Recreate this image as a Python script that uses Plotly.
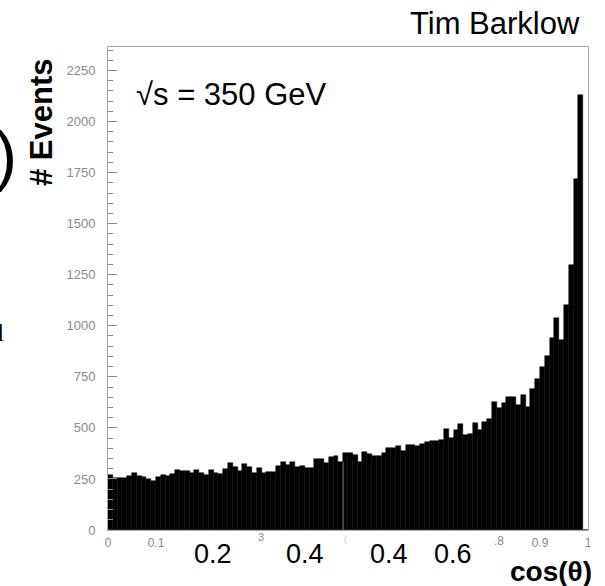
import plotly.graph_objects as go

# ---- data -------------------------------------------------------------
bin_width = 0.01
bin_starts = [round(i * bin_width, 2) for i in range(100)]
counts = [
    270, 257, 256, 254, 262, 281, 266, 259, 249, 242,
    259, 268, 262, 272, 296, 290, 290, 281, 296, 280,
    270, 292, 277, 274, 300, 327, 310, 290, 322, 310,
    281, 302, 281, 286, 286, 313, 332, 318, 332, 307,
    315, 304, 302, 346, 346, 327, 356, 362, 335, 376,
    376, 367, 335, 384, 373, 360, 362, 379, 400, 400,
    412, 388, 416, 416, 412, 421, 432, 434, 436, 440,
    493, 449, 490, 519, 465, 468, 526, 490, 531, 542,
    629, 596, 620, 650, 650, 610, 660, 600, 690, 740,
    800, 850, 940, 1040, 930, 1100, 1300, 1720, 2130, 0,
]
y_ticks = [0, 250, 500, 750, 1000, 1250, 1500, 1750, 2000, 2250]
x_tick_vals = [0, 0.1, 0.9, 1]
x_tick_text = ["0", "0.1", "0.9", "1"]
overlay_labels = ["0.2", "0.4", "0.4", "0.6"]

centers = [s + bin_width / 2 for s in bin_starts]

GRAY = "#8a8a8a"
LINE = "#a8a8a8"

# plot-area geometry in pixels (for placing free text)
W, H = 605, 586
L, R, T, B = 108, 588, 47, 530


def px(xp):
    return (xp - L) / (R - L)


def py(yp):
    return (B - yp) / (B - T)


fig = go.Figure()
fig.add_trace(go.Bar(
    x=centers, y=counts, width=bin_width,
    marker=dict(color="black", line=dict(color="black", width=0.5)),
    hoverinfo="skip",
))

# thin gray seam visible inside the bars at cos = 0.49
seam_x = bin_starts[49]
fig.add_shape(type="line", xref="x", yref="y", x0=seam_x, x1=seam_x,
              y0=0, y1=min(counts[48], counts[49]),
              line=dict(color="#707070", width=1))

fig.update_layout(
    width=W, height=H,
    margin=dict(l=L, r=W - R, t=T, b=H - B),
    paper_bgcolor="white", plot_bgcolor="white",
    bargap=0, showlegend=False,
    font=dict(family="Liberation Sans, Arial, sans-serif", color="black"),
    xaxis=dict(
        range=[0, 1], showgrid=False, zeroline=False,
        showline=True, linecolor=LINE, linewidth=1, mirror=True,
        ticks="", tickvals=x_tick_vals, ticktext=x_tick_text,
        tickfont=dict(size=12, color=GRAY), ticklabelstandoff=2,
    ),
    yaxis=dict(
        range=[0, 2365], showgrid=False, zeroline=False,
        showline=True, linecolor=LINE, linewidth=1, mirror=True,
        ticks="inside", ticklen=9, tickcolor=GRAY, tickwidth=1,
        tickvals=y_ticks, tickfont=dict(size=13, color=GRAY),
        ticklabelstandoff=9,
        minor=dict(ticks="inside", ticklen=5, dtick=50, tick0=0,
                   tickcolor=GRAY, showgrid=False),
    ),
)

ann = []
# partially hidden x tick labels
ann.append(dict(x=0.3, y=py(537), xref="x", yref="paper", text="3",
                showarrow=False, xanchor="left", yanchor="middle", xshift=4,
                font=dict(size=11, color=GRAY)))
ann.append(dict(x=0.8, y=py(541), xref="x", yref="paper", text=".8",
                showarrow=False, xanchor="left", yanchor="middle", xshift=0,
                font=dict(size=12, color=GRAY)))
ann.append(dict(x=0.5, y=py(539), xref="x", yref="paper", text="(",
                showarrow=False, xanchor="center", yanchor="middle", xshift=-3,
                font=dict(size=9, color="#c8c8c8")))
# overlaid large labels
for lab, xc in zip(overlay_labels, [213, 305, 389, 453]):
    ann.append(dict(x=px(xc), y=py(554), xref="paper", yref="paper", text=lab,
                    showarrow=False, xanchor="center", yanchor="middle",
                    font=dict(size=27, color="black")))
# axis titles
ann.append(dict(x=px(594), y=py(571), xref="paper", yref="paper",
                text="<b>cos(θ)</b>", showarrow=False, xanchor="right",
                yanchor="middle", font=dict(size=28, color="black")))
ann.append(dict(x=px(42), y=py(122), xref="paper", yref="paper",
                text="<b># Events</b>", showarrow=False, textangle=-90,
                xanchor="center", yanchor="middle",
                font=dict(size=31, color="black")))
# in-plot label
ann.append(dict(x=px(134), y=py(95), xref="paper", yref="paper",
                text="√s = 350 GeV", showarrow=False, xanchor="left",
                yanchor="middle", font=dict(size=31, color="black")))
# author
ann.append(dict(x=px(582), y=py(24), xref="paper", yref="paper",
                text="Tim Barklow", showarrow=False, xanchor="right",
                yanchor="middle", font=dict(size=31, color="black")))
# fragments of neighbouring slide content at the left edge
ann.append(dict(x=px(6), y=py(155), xref="paper", yref="paper",
                text=")", showarrow=False, xanchor="center", yanchor="middle",
                font=dict(size=66, color="black")))
ann.append(dict(x=px(0), y=py(332), xref="paper", yref="paper",
                text="l", showarrow=False, xanchor="center", yanchor="middle",
                font=dict(size=26, color="black",
                          family="Liberation Serif, serif")))
fig.update_layout(annotations=ann)

fig.write_html("out.html")
